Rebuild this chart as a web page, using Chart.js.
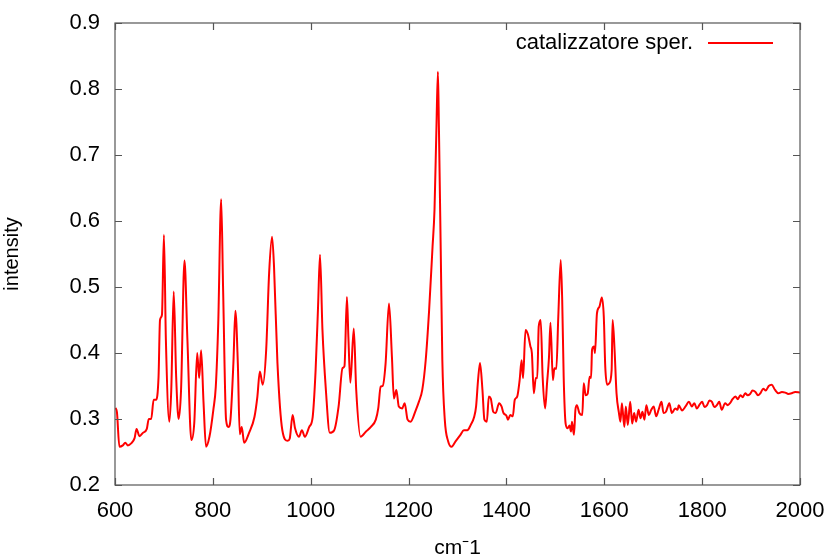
<!DOCTYPE html>
<html>
<head>
<meta charset="utf-8">
<script src="https://cdn.jsdelivr.net/npm/chart.js@4"></script>
<style>
  html, body { margin: 0; padding: 0; background: #fff; }
  #wrap { width: 833px; height: 556px; }
</style>
</head>
<body>
<div id="wrap"><canvas id="spectrum"></canvas></div>
<script>
// wavenumbers (cm-1) and intensities
const wavenumbers = [
  601, 604, 609, 616, 621, 626, 633, 640, 644, 650, 657, 665, 669, 674, 679, 684, 689, 692, 696, 700,
  704, 711, 715, 720, 725, 730, 735, 742, 748, 756, 762, 768, 772, 776, 781, 786, 793, 801, 806, 811,
  817, 821, 827, 832, 836, 842, 846, 851, 855, 859, 864, 874, 885, 891, 896, 902, 909, 915, 921, 925,
  932, 942, 953, 957, 963, 968, 976, 982, 988, 997, 1004, 1010, 1015, 1019, 1024, 1031, 1039, 1048, 1057, 1065,
  1069, 1074, 1077, 1081, 1088, 1093, 1102, 1113, 1123, 1133, 1138, 1143, 1147, 1153, 1160, 1166, 1170, 1175, 1180, 1187,
  1192, 1198, 1204, 1215, 1221, 1228, 1235, 1242, 1249, 1253, 1257, 1260, 1262, 1266, 1269, 1274, 1281, 1288, 1296, 1306,
  1313, 1320, 1327, 1334, 1338, 1342, 1346, 1351, 1355, 1360, 1364, 1368, 1373, 1378, 1385, 1390, 1394, 1400, 1403, 1408,
  1413, 1417, 1422, 1427, 1431, 1434, 1439, 1444, 1449, 1452, 1456, 1460, 1463, 1466, 1470, 1474, 1479, 1483, 1487, 1490,
  1495, 1498, 1502, 1506, 1511, 1514, 1517, 1521, 1525, 1529, 1532, 1534, 1538, 1541, 1544, 1549, 1555, 1558, 1562, 1566,
  1570, 1573, 1575, 1579, 1581, 1585, 1590, 1595, 1599, 1602, 1606, 1610, 1615, 1617, 1621, 1625, 1630, 1633, 1636, 1641,
  1644, 1648, 1653, 1657, 1661, 1665, 1670, 1674, 1678, 1682, 1686, 1691, 1696, 1701, 1706, 1711, 1717, 1721, 1726, 1733,
  1738, 1745, 1750, 1752, 1759, 1766, 1773, 1779, 1784, 1789, 1795, 1800, 1805, 1810, 1815, 1820, 1825, 1830, 1835, 1840,
  1847, 1852, 1857, 1862, 1868, 1873, 1878, 1883, 1888, 1893, 1898, 1903, 1909, 1914, 1919, 1925, 1930, 1936, 1942, 1949,
  1956, 1963, 1970, 1976, 1983, 1990, 2000
];
const intensity = [
  0.317, 0.310, 0.258, 0.260, 0.264, 0.260, 0.263, 0.271, 0.285, 0.274, 0.279, 0.285, 0.300, 0.300, 0.329, 0.329, 0.364, 0.450, 0.458, 0.579,
  0.420, 0.296, 0.344, 0.493, 0.364, 0.300, 0.344, 0.540, 0.420, 0.268, 0.294, 0.400, 0.362, 0.404, 0.324, 0.258, 0.273, 0.314, 0.349, 0.445,
  0.633, 0.495, 0.299, 0.288, 0.299, 0.385, 0.464, 0.385, 0.277, 0.288, 0.264, 0.279, 0.303, 0.334, 0.372, 0.352, 0.405, 0.521, 0.576, 0.531,
  0.385, 0.283, 0.267, 0.270, 0.306, 0.286, 0.273, 0.283, 0.273, 0.288, 0.303, 0.374, 0.470, 0.549, 0.435, 0.344, 0.279, 0.283, 0.319, 0.377,
  0.380, 0.485, 0.424, 0.355, 0.437, 0.344, 0.273, 0.281, 0.288, 0.299, 0.316, 0.349, 0.350, 0.384, 0.475, 0.394, 0.331, 0.344, 0.319, 0.316,
  0.324, 0.299, 0.296, 0.314, 0.326, 0.344, 0.389, 0.465, 0.561, 0.617, 0.743, 0.826, 0.743, 0.541, 0.389, 0.299, 0.266, 0.258, 0.266, 0.276,
  0.283, 0.283, 0.291, 0.303, 0.319, 0.359, 0.385, 0.344, 0.299, 0.296, 0.334, 0.331, 0.311, 0.309, 0.324, 0.319, 0.309, 0.305, 0.299, 0.306,
  0.304, 0.329, 0.334, 0.359, 0.389, 0.362, 0.435, 0.428, 0.410, 0.400, 0.339, 0.362, 0.362, 0.440, 0.450, 0.364, 0.316, 0.354, 0.394, 0.446,
  0.359, 0.377, 0.376, 0.455, 0.541, 0.480, 0.364, 0.293, 0.286, 0.290, 0.281, 0.296, 0.276, 0.314, 0.321, 0.309, 0.306, 0.354, 0.336, 0.338,
  0.364, 0.362, 0.405, 0.410, 0.400, 0.460, 0.470, 0.484, 0.455, 0.379, 0.352, 0.354, 0.374, 0.450, 0.405, 0.339, 0.309, 0.296, 0.324, 0.288,
  0.319, 0.291, 0.326, 0.293, 0.309, 0.296, 0.314, 0.301, 0.311, 0.299, 0.321, 0.306, 0.314, 0.319, 0.304, 0.314, 0.326, 0.309, 0.311, 0.324,
  0.309, 0.316, 0.314, 0.321, 0.313, 0.319, 0.326, 0.319, 0.324, 0.316, 0.322, 0.326, 0.318, 0.321, 0.328, 0.326, 0.318, 0.321, 0.326, 0.314,
  0.324, 0.321, 0.324, 0.330, 0.334, 0.330, 0.336, 0.333, 0.339, 0.336, 0.338, 0.343, 0.341, 0.336, 0.339, 0.346, 0.343, 0.350, 0.352, 0.344,
  0.339, 0.341, 0.340, 0.338, 0.339, 0.341, 0.340
];
const xTicks = [600, 800, 1000, 1200, 1400, 1600, 1800, 2000];
const yTicks = [0.2, 0.3, 0.4, 0.5, 0.6, 0.7, 0.8, 0.9];
const seriesName = 'catalizzatore sper.';

const FONT = 'Liberation Sans, Arial, Helvetica, sans-serif';
const AXIS = '#555';

// gnuplot-style box with inward ticks on all four sides, plus the key
const frame = {
  id: 'frame',
  afterDatasetsDraw(chart) {
    const { ctx, chartArea: a, scales } = chart;
    const t = 7;
    ctx.save();
    ctx.strokeStyle = AXIS;
    ctx.lineWidth = 1.2;
    ctx.strokeRect(a.left, a.top, a.right - a.left, a.bottom - a.top);
    ctx.beginPath();
    xTicks.forEach(v => {
      const x = Math.round(scales.x.getPixelForValue(v)) + 0.5;
      ctx.moveTo(x, a.bottom); ctx.lineTo(x, a.bottom - t);
      ctx.moveTo(x, a.top); ctx.lineTo(x, a.top + t);
    });
    yTicks.forEach(v => {
      const y = Math.round(scales.y.getPixelForValue(v)) + 0.5;
      ctx.moveTo(a.left, y); ctx.lineTo(a.left + t, y);
      ctx.moveTo(a.right, y); ctx.lineTo(a.right - t, y);
    });
    ctx.stroke();

    // key, top right inside the box
    const ky = a.top + 20;
    ctx.fillStyle = '#000';
    ctx.font = '22px ' + FONT;
    ctx.textAlign = 'right';
    ctx.textBaseline = 'middle';
    ctx.fillText(seriesName, a.right - 107, ky);
    ctx.strokeStyle = '#ff0000';
    ctx.lineWidth = 2;
    ctx.beginPath();
    ctx.moveTo(a.right - 92, ky);
    ctx.lineTo(a.right - 27, ky);
    ctx.stroke();
    ctx.restore();
  }
};

new Chart(document.getElementById('spectrum'), {
  type: 'line',
  data: {
    datasets: [{
      label: seriesName,
      data: wavenumbers.map((w, i) => ({ x: w, y: intensity[i] })),
      borderColor: '#ff0000',
      borderWidth: 2,
      pointRadius: 0,
      cubicInterpolationMode: 'monotone',
      fill: false,
    }],
  },
  options: {
    responsive: true,
    maintainAspectRatio: false,
    animation: false,
    layout: { padding: { top: 23, right: 33, left: 0, bottom: 0 } },
    plugins: { legend: { display: false }, tooltip: { enabled: false } },
    scales: {
      x: {
        type: 'linear',
        min: 600,
        max: 2000,
        afterBuildTicks: s => { s.ticks = xTicks.map(v => ({ value: v })); },
        afterFit: s => { s.height = 71; s.paddingLeft = 0; s.paddingRight = 0; },
        grid: { display: false, drawTicks: false },
        border: { display: false },
        ticks: {
          color: '#000',
          padding: 13,
          font: { family: FONT, size: 22 },
          callback: v => String(v),
        },
        title: {
          display: true,
          text: 'cm\u207B1',
          color: '#000',
          padding: { top: 0, bottom: -3 },
          font: { family: FONT, size: 21, lineHeight: 1 },
        },
      },
      y: {
        min: 0.2,
        max: 0.9,
        afterBuildTicks: s => { s.ticks = yTicks.map(v => ({ value: v })); },
        afterFit: s => { s.width = 115; s.paddingTop = 0; s.paddingBottom = 0; },
        grid: { display: false, drawTicks: false },
        border: { display: false },
        ticks: {
          color: '#000',
          padding: 15,
          font: { family: FONT, size: 22 },
          callback: v => v.toFixed(1),
        },
        title: {
          display: true,
          text: 'intensity',
          color: '#000',
          padding: { top: 0, bottom: 0 },
          font: { family: FONT, size: 20 },
        },
      },
    },
  },
  plugins: [frame],
});
</script>
</body>
</html>
